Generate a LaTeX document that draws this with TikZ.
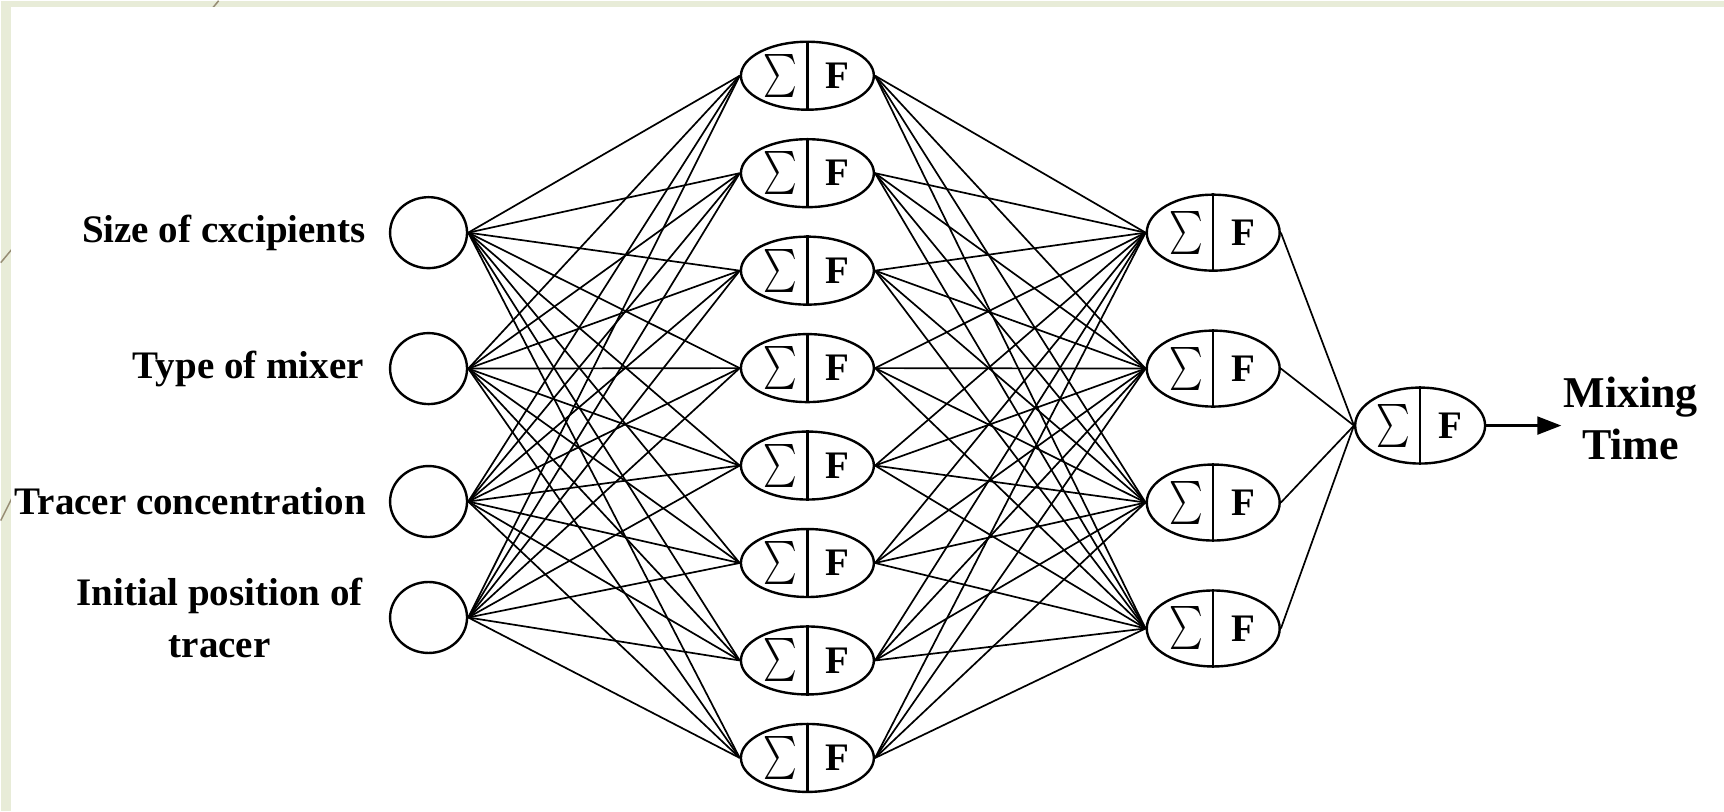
\documentclass[tikz,border=0pt]{standalone}
\usepackage{fontspec}
\setmainfont{Liberation Serif}
\usetikzlibrary{shapes.geometric,positioning,arrows.meta}
\definecolor{slidegreen}{RGB}{232,236,216}
\definecolor{slideline}{RGB}{150,140,115}

\begin{document}
\begin{tikzpicture}[x=1pt,y=-1pt,
    inp/.style={ellipse, draw, line width=2.4pt, minimum width=77pt, minimum height=71pt, inner sep=0pt},
    neur/.style={ellipse, draw, line width=2.4pt, minimum width=133pt, minimum height=68pt, inner sep=0pt},
    lab/.style={font=\fontsize{39}{52}\selectfont\bfseries, align=center, inner sep=0pt},
    wire/.style={line width=1.7pt}]
    % slide background
    \fill[slidegreen] (0,0) rectangle (1724,811);
    \draw[slideline, line width=1.5pt] (218,0) -- (0,262);
    \draw[slideline, line width=1.5pt] (50,420) -- (0,520);
    \fill[white] (10,6) rectangle (1724,811);
    \useasboundingbox (0,0) rectangle (1724,811);

    % input layer
    \node[inp] (x1) at (428,232) {};
    \node[inp] (x2) at (428,368) {};
    \node[inp] (x3) at (428,501) {};
    \node[inp] (x4) at (428,617) {};
    \node[lab, left=23pt of x1] (l1) {Size of cxcipients};
    \node[lab, left=25pt of x2] (l2) {Type of mixer};
    \node[lab, left=23pt of x3] (l3) {Tracer concentration};
    \node[lab, left=26pt of x4] (l4) {Initial position of\\tracer};

    % hidden layers
    \foreach \i/\y in {1/75,2/172.5,3/270,4/367.5,5/465,6/562.5,7/660,8/757.5}
        \node[neur] (h\i) at (807,\y) {};
    \foreach \k/\y in {1/232,2/368,3/502,4/628}
        \node[neur, minimum height=76pt] (g\k) at (1213,\y) {};

    % output
    \node[neur, minimum width=130pt, minimum height=76pt] (out) at (1420,425) {};

    % sum | F inside every neuron
    \foreach \n in {h1,h2,h3,h4,h5,h6,h7,h8,g1,g2,g3,g4,out} {
        \draw[line width=2.2pt] (\n.north) -- (\n.south);
        \node (\n-s) at ([xshift=-27pt]\n.center) {\scalebox{3.2}[4.3]{$\sum$}};
        \node[font=\fontsize{39}{44}\selectfont\bfseries] (\n-f) at ([xshift=30pt]\n.center) {F};
    }

    % weights
    \foreach \i in {1,...,4}
        \foreach \j in {1,...,8}
            \draw[wire] (x\i.east) -- (h\j.west);
    \foreach \j in {1,...,8}
        \foreach \k in {1,...,4}
            \draw[wire] (h\j.east) -- (g\k.west);
    \foreach \k in {1,...,4}
        \draw[wire] (g\k.east) -- (out.west);

    \draw[line width=2.2pt, -{Triangle[length=24pt,width=18pt]}] (out.east) -- ++(75,0) coordinate (tip);
    \node[lab, font=\fontsize{44}{52}\selectfont\bfseries, anchor=west] (res) at ([xshift=2pt,yshift=7pt]tip) {Mixing\\Time};
\end{tikzpicture}
\end{document}
